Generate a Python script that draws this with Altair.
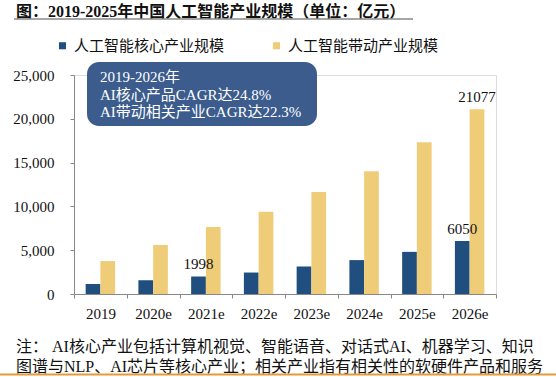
import altair as alt
import pandas as pd

years = ["2019", "2020e", "2021e", "2022e", "2023e", "2024e", "2025e", "2026e"]
core = [1140, 1570, 1998, 2450, 3140, 3870, 4810, 6050]
related = [3760, 5600, 7650, 9390, 11640, 14010, 17310, 21077]
series_names = ["人工智能核心产业规模", "人工智能带动产业规模"]
colors = ["#1F4E7F", "#EFCD78"]
y_ticks = [0, 5000, 10000, 15000, 20000, 25000]
title_text = "图：2019-2025年中国人工智能产业规模（单位：亿元）"
box_lines = ["2019-2026年", "AI核心产品CAGR达24.8%", "AI带动相关产业CAGR达22.3%"]
note_lines = [
    "注： AI核心产业包括计算机视觉、智能语音、对话式AI、机器学习、知识",
    "图谱与NLP、AI芯片等核心产业；相关产业指有相关性的软硬件产品和服务",
]
labeled = [(2, 0), (7, 0), (7, 1)]  # (year index, series index)

FONT = "Liberation Serif, Times New Roman, Noto Sans CJK SC"
W, H = 422, 219

rows = []
for i, y in enumerate(years):
    rows.append({"year": y, "series": series_names[0], "value": core[i]})
    rows.append({"year": y, "series": series_names[1], "value": related[i]})
df = pd.DataFrame(rows)
vals = [core, related]
df_lab = pd.DataFrame([
    {"year": years[i], "series": series_names[s], "value": vals[s][i]} for i, s in labeled
])

x_enc = alt.X(
    "year:N", sort=years,
    scale=alt.Scale(paddingInner=0, paddingOuter=0),
    axis=alt.Axis(title=None, labelAngle=0, tickBand="extent", domainColor="#888888",
                  tickColor="#888888", tickSize=4, labelPadding=8, labelFont=FONT,
                  labelFontSize=15, labelColor="#111111"),
)
xo_enc = alt.XOffset("series:N", sort=series_names,
                     scale=alt.Scale(paddingInner=0, paddingOuter=0.79))
y_enc = alt.Y(
    "value:Q", scale=alt.Scale(domain=[0, 25000], nice=False),
    axis=alt.Axis(title=None, values=y_ticks, format=",d", grid=False, domainColor="#888888",
                  tickColor="#888888", tickSize=4, labelPadding=16, labelFont=FONT,
                  labelFontSize=15, labelColor="#111111"),
)

bars = alt.Chart(df).mark_bar().encode(
    x=x_enc, xOffset=xo_enc, y=y_enc,
    color=alt.Color("series:N", sort=series_names,
                    scale=alt.Scale(domain=series_names, range=colors),
                    legend=alt.Legend(orient="none", legendX=-19, legendY=-37,
                                      direction="horizontal", title=None,
                                      symbolType="square", symbolSize=50,
                                      symbolStrokeWidth=0, labelFont=FONT,
                                      labelFontSize=15, labelColor="#111111",
                                      columnPadding=44, labelLimit=400, labelOffset=4,
                                      padding=0)),
)

labels = alt.Chart(df_lab).mark_text(font=FONT, fontSize=15, dy=-7, baseline="alphabetic",
                                     color="#111111").encode(
    x=alt.X("year:N", sort=years), xOffset=alt.XOffset("series:N", sort=series_names),
    y=alt.Y("value:Q"), text=alt.Text("value:Q", format="d"),
)

one = pd.DataFrame({"a": [0]})

box = alt.Chart(one).mark_rect(
    color="#3B5C8D", cornerRadius=12
).encode(x=alt.value(13), x2=alt.value(243), y=alt.value(-13), y2=alt.value(51))


def text_layer(t, x, y, size=15, color="#111111", weight="normal"):
    return alt.Chart(pd.DataFrame({"t": [t]})).mark_text(
        font=FONT, fontSize=size, color=color, fontWeight=weight,
        align="left", baseline="middle"
    ).encode(x=alt.value(x), y=alt.value(y), text="t:N")


box_texts = [text_layer(t, 26, 2 + i * 17.5, color="white") for i, t in enumerate(box_lines)]
title = text_layer(title_text, -58, -63, size=16, weight="bold")
notes = [text_layer(t, -58, 272 + i * 20, size=16) for i, t in enumerate(note_lines)]

underline = alt.Chart(one).mark_rule(
    color="#888888", strokeWidth=1.5
).encode(x=alt.value(-60), x2=alt.value(339), y=alt.value(-56))

orange = alt.Chart(one).mark_rule(
    color="#E89A3A", strokeWidth=2
).encode(x=alt.value(-74), x2=alt.value(482), y=alt.value(299.5))

chart = alt.layer(bars, labels, box, *box_texts, title, underline, *notes, orange).properties(
    width=W, height=H,
    autosize=alt.AutoSizeParams(type="none"),
    padding={"left": 74, "top": 75, "right": 60, "bottom": 83},
).configure_view(stroke=None).configure(background="white")

chart.save("out.html", embed_options={"renderer": "svg", "actions": False})
